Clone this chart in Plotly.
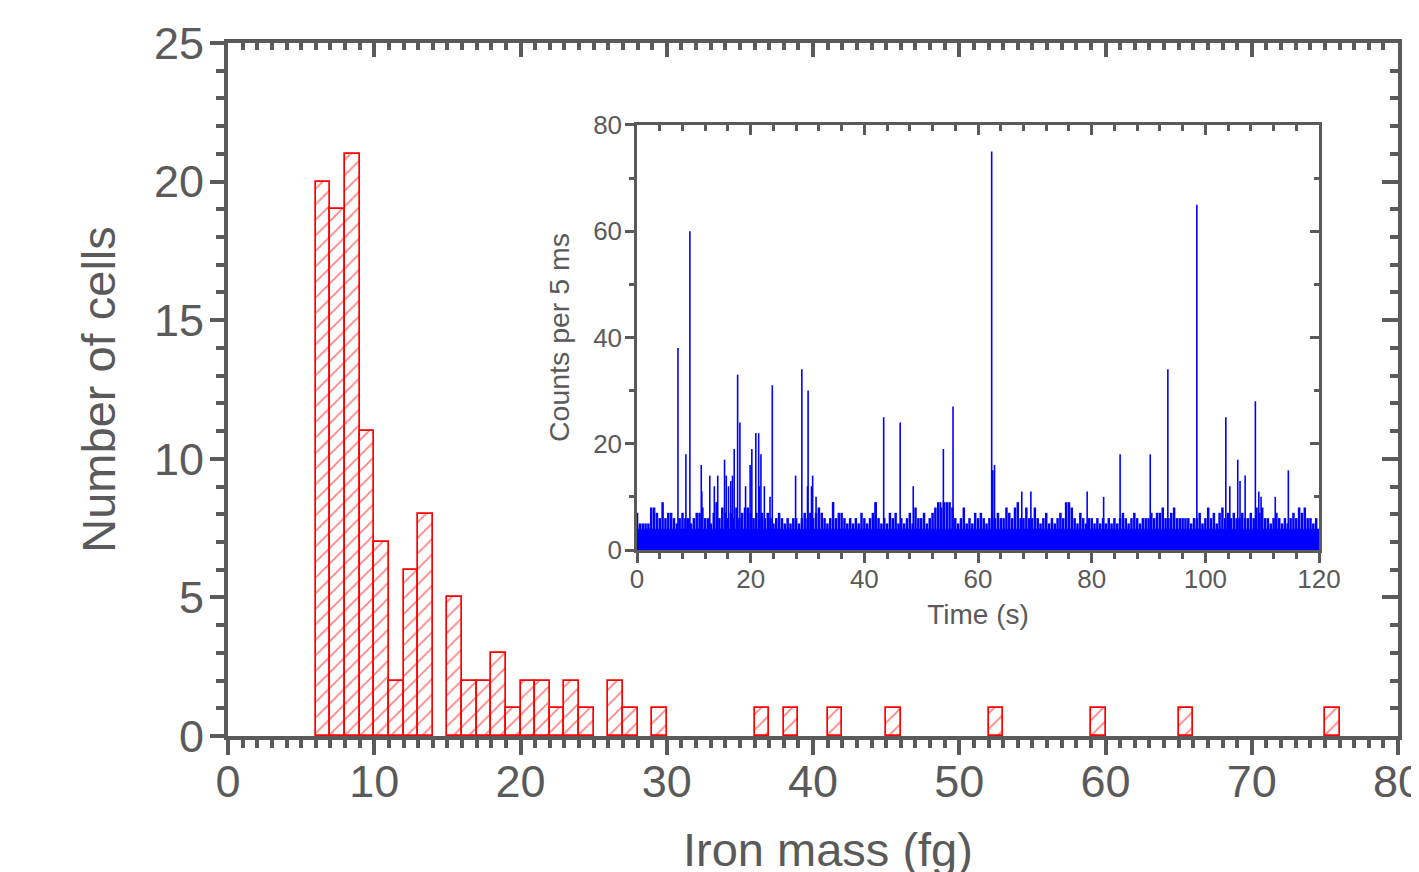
import plotly.graph_objects as go

# Histogram of iron mass per cell (1 fg bins, left bin edges)
mass_bin_left = [6, 7, 8, 9, 10, 11, 12, 13, 15, 16, 17, 18, 19, 20, 21, 22, 23, 24,
                 26, 27, 29, 36, 38, 41, 45, 52, 59, 65, 75]
cell_counts = [20, 19, 21, 11, 7, 2, 6, 8, 5, 2, 2, 3, 1, 2, 2, 1, 2, 1,
               2, 1, 1, 1, 1, 1, 1, 1, 1, 1, 1]

# Inset: time trace, counts per 5 ms
background_counts = 4          # solid noise floor
time_span = [0, 120]

# noise tops, one value every 0.5 s (rows of 10 s)
noise_step = 0.5
noise_top = [
    7, 5, 5, 5, 5, 8, 8, 7, 6, 9, 6, 7, 7, 6, 5, 6, 7, 6, 6, 5,
    6, 7, 7, 8, 6, 6, 5, 7, 9, 6, 8, 7, 6, 7, 6, 8, 6, 7, 8, 8,
    7, 6, 7, 6, 7, 6, 7, 6, 5, 6, 7, 6, 5, 6, 5, 6, 6, 5, 6, 7,
    6, 7, 6, 7, 8, 7, 6, 5, 6, 9, 6, 7, 7, 6, 5, 6, 5, 6, 5, 7,
    6, 5, 6, 7, 9, 6, 5, 6, 5, 7, 6, 7, 5, 6, 5, 6, 7, 5, 8, 6,
    6, 7, 5, 6, 7, 8, 9, 8, 9, 9, 9, 8, 6, 5, 6, 8, 5, 6, 5, 7,
    6, 7, 6, 5, 6, 6, 6, 7, 6, 6, 8, 7, 6, 8, 9, 6, 6, 8, 6, 6,
    8, 6, 5, 6, 7, 5, 6, 5, 6, 7, 6, 9, 9, 8, 6, 5, 7, 6, 5, 6,
    6, 5, 6, 5, 6, 5, 6, 5, 6, 5, 6, 7, 6, 5, 6, 7, 6, 5, 6, 6,
    6, 7, 6, 7, 7, 8, 6, 6, 7, 8, 6, 6, 6, 6, 6, 5, 6, 6, 7, 5,
    6, 8, 6, 7, 5, 7, 8, 6, 7, 6, 7, 6, 6, 7, 6, 6, 7, 6, 8, 7,
    8, 6, 6, 5, 6, 7, 6, 5, 6, 5, 6, 7, 6, 8, 7, 8, 6, 6, 5, 6,
]

# particle events (spikes)
spike_time = [7.2, 8.6, 9.3, 11.3, 11.4, 12.8, 13.6, 14.2, 15.4, 15.7, 16.1, 16.5, 16.8,
              17.1, 17.7, 18.1, 19.1, 19.9, 20.2, 20.9, 21.4, 21.5, 21.8, 22.4, 23.4, 23.8,
              27.9, 29.0, 30.0, 30.1, 30.7, 30.9, 31.5, 34.5, 41.9, 43.4, 46.3, 48.6, 53.4,
              53.9, 55.6, 62.4, 62.6, 62.9, 67.7, 69.3, 79.2, 82.1, 85.0, 90.3, 93.4, 98.5,
              103.6, 104.3, 105.7, 106.1, 107.0, 108.8, 109.4, 109.8, 112.3, 114.6]
spike_counts = [38, 18, 60, 16, 11, 14, 12, 14, 17, 14, 12, 13, 14,
                19, 33, 24, 12, 16, 19, 22, 22, 12, 18, 12, 10, 31,
                14, 34, 12, 30, 12, 14, 10, 9, 9, 25, 24, 12, 9,
                19, 27, 75, 15, 16, 11, 11, 11, 10, 18, 18, 34, 65,
                25, 12, 17, 13, 14, 28, 11, 10, 10, 15]

GRAY = '#5a5a5a'
BLUE = '#0000ff'
FONT = 'Arial, Liberation Sans, sans-serif'


def stems(ts, hs):
    xs, ys = [], []
    for t, h in zip(ts, hs):
        xs += [t, t, None]
        ys += [0, h, None]
    return xs, ys


fig = go.Figure()

# histogram bars
fig.add_trace(go.Bar(
    x=[b + 0.5 for b in mass_bin_left], y=cell_counts, width=1,
    marker=dict(color='white', line=dict(color='red', width=1.7),
                pattern=dict(shape='/', fgcolor='red', bgcolor='white', size=11, solidity=0.15)),
    showlegend=False, hoverinfo='skip'
))

# mirror axes (top / right, ticks inward)
fig.add_trace(go.Scatter(x=[], y=[], xaxis='x2', yaxis='y2', showlegend=False))

# inset: noise floor
fig.add_trace(go.Scatter(
    x=time_span, y=[background_counts] * len(time_span), mode='lines',
    line=dict(width=0, color=BLUE), fill='tozeroy', fillcolor=BLUE,
    xaxis='x3', yaxis='y3', showlegend=False, hoverinfo='skip'
))
nx, ny = stems([i * noise_step for i in range(len(noise_top))], noise_top)
fig.add_trace(go.Scatter(x=nx, y=ny, mode='lines', line=dict(color=BLUE, width=2.5),
                         xaxis='x3', yaxis='y3', showlegend=False, hoverinfo='skip'))
sx, sy = stems(spike_time, spike_counts)
fig.add_trace(go.Scatter(x=sx, y=sy, mode='lines', line=dict(color=BLUE, width=1.6),
                         xaxis='x3', yaxis='y3', showlegend=False, hoverinfo='skip'))
fig.add_trace(go.Scatter(x=[], y=[], xaxis='x4', yaxis='y4', showlegend=False))

common = dict(showgrid=False, zeroline=False, tickcolor=GRAY, linecolor=GRAY, automargin=False)

fig.update_layout(
    width=1419, height=872, autosize=False,
    margin=dict(l=220, r=29, t=35, b=144),
    plot_bgcolor='white', paper_bgcolor='white',
    font=dict(family=FONT, color=GRAY),
    bargap=0,
    xaxis=dict(range=[0, 80], dtick=10, ticks='outside', ticklen=15, tickwidth=4,
               showline=True, linewidth=4, mirror=True,
               minor=dict(dtick=1, ticks='outside', ticklen=8, tickwidth=4, tickcolor=GRAY),
               tickfont=dict(size=45), ticklabelstandoff=-12, ticklabeloverflow='allow',
               **common),
    yaxis=dict(range=[0, 25], dtick=5, ticks='outside', ticklen=14, tickwidth=4,
               showline=True, linewidth=4, mirror=True,
               minor=dict(dtick=1, ticks='outside', ticklen=8, tickwidth=4, tickcolor=GRAY),
               tickfont=dict(size=45), ticklabelstandoff=-3,
               title=dict(text='Number of cells', font=dict(size=47), standoff=24), **common),
    xaxis2=dict(overlaying='x', anchor='y', side='top', range=[0, 80], dtick=10,
                ticks='inside', ticklen=14, tickwidth=4, showticklabels=False,
                minor=dict(dtick=1, ticks='inside', ticklen=7, tickwidth=4, tickcolor=GRAY),
                **common),
    yaxis2=dict(overlaying='y', anchor='x', side='right', range=[0, 25], dtick=5,
                ticks='inside', ticklen=16, tickwidth=4, showticklabels=False,
                minor=dict(dtick=1, ticks='inside', ticklen=8, tickwidth=4, tickcolor=GRAY),
                **common),
    xaxis3=dict(domain=[0.3496, 0.9325], anchor='y3', range=[0, 120], dtick=20,
                ticks='outside', ticklen=10, tickwidth=2.5, showline=True, linewidth=2.5,
                minor=dict(dtick=4, ticks='outside', ticklen=6, tickwidth=2.5, tickcolor=GRAY),
                tickfont=dict(size=26), ticklabelstandoff=-6,
                title=dict(text='Time (s)', font=dict(size=28), standoff=12), **common),
    yaxis3=dict(domain=[0.2684, 0.8817], anchor='x3', range=[0, 80], dtick=20,
                ticks='outside', ticklen=9, tickwidth=2.5, showline=True, linewidth=2.5,
                minor=dict(dtick=10, ticks='outside', ticklen=5, tickwidth=2.5, tickcolor=GRAY),
                tickfont=dict(size=26), ticklabelstandoff=-2,
                title=dict(text='Counts per 5 ms', font=dict(size=28.5), standoff=16), **common),
    xaxis4=dict(overlaying='x3', anchor='y3', side='top', range=[0, 120], dtick=20,
                ticks='inside', ticklen=10, tickwidth=2.5, showticklabels=False,
                showline=True, linewidth=2.5,
                minor=dict(dtick=4, ticks='inside', ticklen=6, tickwidth=2.5, tickcolor=GRAY),
                **common),
    yaxis4=dict(overlaying='y3', anchor='x3', side='right', range=[0, 80], dtick=20,
                ticks='inside', ticklen=9, tickwidth=2.5, showticklabels=False,
                showline=True, linewidth=2.5,
                minor=dict(dtick=10, ticks='inside', ticklen=5, tickwidth=2.5, tickcolor=GRAY),
                **common),
)

# x-axis title, sitting slightly right of centre and clipped by the page bottom as in the source
fig.add_annotation(text='Iron mass (fg)', xref='paper', yref='paper', x=0.5124, y=-0.164,
                   xanchor='center', yanchor='middle', showarrow=False,
                   font=dict(size=47, color=GRAY, family=FONT))

fig.write_html("out.html")
